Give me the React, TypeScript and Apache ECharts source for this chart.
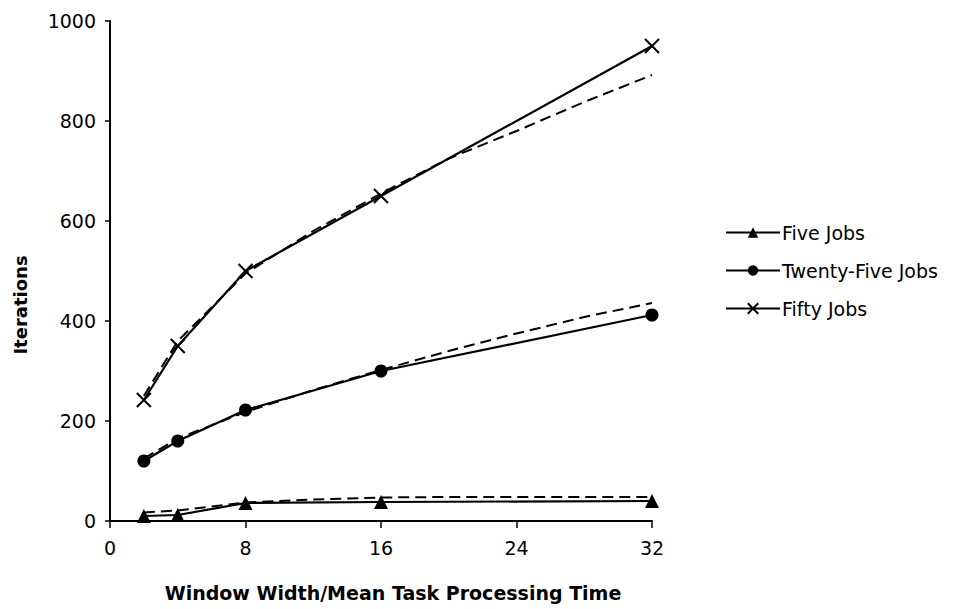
import React, { useEffect, useRef } from "react";
import * as echarts from "echarts";

// Measured points (solid lines with markers)
const xPoints = [2, 4, 8, 16, 32];
const fiveJobs = [10, 12, 36, 38, 40];
const twentyFiveJobs = [120, 160, 222, 300, 412];
const fiftyJobs = [242, 350, 500, 650, 950];

// Dashed (model) curves
const fitX = [2, 4, 8, 12, 16, 20, 24, 28, 32];
const fiveFit = [17, 21, 37, 43, 47, 48, 48, 48, 48];
const twentyFiveFit = [125, 165, 218, 262, 302, 340, 375, 408, 436];
const fiftyFit = [250, 360, 495, 580, 655, 725, 780, 838, 892];

const seriesNames = ["Five Jobs", "Twenty-Five Jobs", "Fifty Jobs"];
const xTicks = [0, 8, 16, 24, 32];
const yTicks = [0, 200, 400, 600, 800, 1000];

const FONT = "'DejaVu Sans', 'Liberation Sans', Arial, sans-serif";

const pair = (xs: number[], ys: number[]) => xs.map((x, i) => [x, ys[i]]);

export default function App() {
  const ref = useRef<HTMLDivElement>(null);
  useEffect(() => {
    if (!ref.current) return;
    const chart = echarts.init(ref.current, null, { renderer: "svg" });
    const dashed = (name: string, ys: number[]) => ({
      name,
      type: "line",
      data: pair(fitX, ys),
      showSymbol: false,
      symbol: "none",
      lineStyle: { color: "#000", width: 2, type: [11, 6] },
      silent: true,
      z: 2,
    });
    const solid = (name: string, ys: number[], symbol: string, size: number) => ({
      name,
      type: "line",
      data: pair(xPoints, ys),
      symbol,
      symbolSize: size,
      showSymbol: true,
      lineStyle: { color: "#000", width: 2.2, type: "solid" },
      itemStyle: { color: "#000", borderColor: "#000", borderWidth: symbol.startsWith("path") ? 2 : 0 },
      z: 3,
    });
    chart.setOption({
      animation: false,
      backgroundColor: "#fff",
      textStyle: { fontFamily: FONT },
      grid: { left: 110, right: 309, top: 21, bottom: 88, containLabel: false },
      legend: {
        data: seriesNames,
        orient: "vertical",
        left: 720,
        top: 218,
        itemWidth: 54,
        itemHeight: 13,
        itemGap: 19,
        textStyle: { fontFamily: FONT, fontSize: 19, color: "#000", padding: [0, 0, 0, -3] },
      },
      xAxis: {
        type: "value",
        min: xTicks[0],
        max: xTicks[xTicks.length - 1],
        interval: 8,
        axisLine: { show: true, onZero: false, lineStyle: { color: "#000", width: 2 } },
        axisTick: { show: true, length: 7, lineStyle: { color: "#000", width: 1.5 } },
        axisLabel: { color: "#000", fontSize: 19, fontFamily: FONT, margin: 17 },
        splitLine: { show: false },
      },
      yAxis: {
        type: "value",
        min: yTicks[0],
        max: yTicks[yTicks.length - 1],
        interval: 200,
        axisLine: { show: true, lineStyle: { color: "#000", width: 2 } },
        axisTick: { show: true, length: 5, lineStyle: { color: "#000", width: 1.5 } },
        axisLabel: {
          color: "#000",
          fontSize: 19,
          fontFamily: FONT,
          margin: 14,
          formatter: (v: number) => String(v),
        },
        splitLine: { show: false },
      },
      graphic: [
        {
          type: "text",
          x: 20,
          y: 305,
          rotation: Math.PI / 2,
          style: {
            text: "Iterations",
            fontFamily: FONT,
            fontSize: 18,
            fontWeight: "bold",
            fill: "#000",
            align: "center",
            verticalAlign: "middle",
          },
        },
        {
          type: "text",
          x: 393,
          y: 593,
          style: {
            text: "Window Width/Mean Task Processing Time",
            fontFamily: FONT,
            fontSize: 19,
            fontWeight: "bold",
            fill: "#000",
            align: "center",
            verticalAlign: "middle",
          },
        },
      ],
      series: [
        dashed("Five Jobs model", fiveFit),
        dashed("Twenty-Five Jobs model", twentyFiveFit),
        dashed("Fifty Jobs model", fiftyFit),
        solid(seriesNames[0], fiveJobs, "triangle", 14),
        solid(seriesNames[1], twentyFiveJobs, "circle", 13),
        solid(seriesNames[2], fiftyJobs, "path://M0,0L10,10M10,0L0,10", 14),
      ],
    });
    return () => chart.dispose();
  }, []);
  return (
    <div
      ref={ref}
      style={{ position: "fixed", left: 0, top: 0, width: 961, height: 609, background: "#fff" }}
    />
  );
}
